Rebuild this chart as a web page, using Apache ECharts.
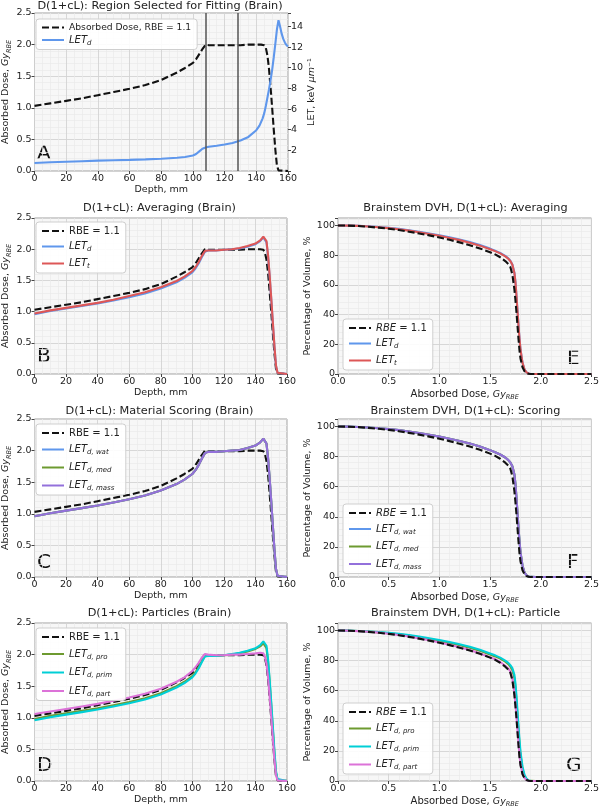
<!DOCTYPE html>
<html><head><meta charset="utf-8">
<script src="https://cdn.jsdelivr.net/npm/echarts@6/dist/echarts.min.js"></script>
<style>html,body{margin:0;padding:0;background:#fff}#c{width:602px;height:809px}</style>
</head><body><div id="c"></div>
<script>
// ---------------- data ----------------
const depth = [0,10,20,30,40,50,60,70,80,90,95,100,102,104,106,108,110,115,120,125,130,135,140,143,144,145,146,147,148,149,150,151,152,153,154,155,160];
const doseRBE = [1.03,1.07,1.11,1.15,1.20,1.25,1.30,1.36,1.44,1.56,1.63,1.71,1.77,1.85,1.93,2.00,1.99,1.99,1.99,1.99,1.99,2.00,2.00,2.00,2.00,1.99,1.95,1.83,1.62,1.32,1.00,0.66,0.34,0.09,0.01,0,0];
const doseLETd = [0.96,1.01,1.05,1.09,1.13,1.18,1.23,1.29,1.37,1.47,1.54,1.63,1.69,1.77,1.87,1.96,1.98,1.98,1.99,2.00,2.01,2.04,2.08,2.13,2.16,2.19,2.20,2.11,1.88,1.56,1.20,0.82,0.45,0.13,0.02,0,0];
const doseLETt = [0.97,1.02,1.06,1.10,1.14,1.19,1.25,1.31,1.39,1.49,1.56,1.65,1.71,1.79,1.89,1.97,1.98,1.98,1.99,2.00,2.02,2.05,2.09,2.14,2.17,2.20,2.22,2.13,1.90,1.58,1.22,0.84,0.46,0.14,0.02,0,0];
const doseWat = [0.96,1.01,1.05,1.09,1.13,1.18,1.23,1.29,1.37,1.47,1.54,1.63,1.69,1.77,1.87,1.96,1.98,1.98,1.99,2.00,2.01,2.04,2.08,2.13,2.16,2.19,2.20,2.11,1.88,1.56,1.20,0.82,0.45,0.13,0.02,0,0];
const doseMed = [0.96,1.01,1.05,1.09,1.13,1.18,1.23,1.29,1.37,1.47,1.54,1.63,1.69,1.77,1.87,1.96,1.98,1.98,1.99,2.00,2.01,2.04,2.08,2.13,2.16,2.19,2.20,2.11,1.88,1.56,1.20,0.82,0.45,0.13,0.02,0,0];
const doseMass = [0.96,1.01,1.05,1.09,1.13,1.18,1.23,1.29,1.37,1.47,1.54,1.63,1.69,1.77,1.87,1.96,1.98,1.98,1.99,2.00,2.01,2.04,2.08,2.13,2.16,2.19,2.20,2.11,1.88,1.56,1.20,0.82,0.45,0.13,0.02,0,0];
const dosePro = [0.98,1.03,1.07,1.11,1.15,1.20,1.25,1.31,1.39,1.50,1.57,1.66,1.72,1.80,1.90,1.98,1.99,1.98,1.99,2.00,2.02,2.05,2.09,2.13,2.15,2.18,2.19,2.10,1.89,1.57,1.21,0.83,0.45,0.13,0.02,0,0];
const dosePrim = [0.96,1.01,1.05,1.09,1.13,1.18,1.23,1.29,1.37,1.48,1.55,1.64,1.70,1.78,1.88,1.97,1.98,1.98,1.99,2.01,2.03,2.06,2.10,2.15,2.18,2.21,2.22,2.14,1.92,1.60,1.25,0.87,0.49,0.16,0.03,0,0];
const dosePart = [1.06,1.10,1.14,1.18,1.22,1.27,1.32,1.38,1.46,1.57,1.64,1.74,1.80,1.87,1.95,2.01,2.00,1.99,1.99,2.00,2.00,2.01,2.02,2.03,2.03,2.02,1.97,1.85,1.64,1.34,1.02,0.68,0.35,0.10,0.01,0,0];

const depthLET = [0,10,20,30,40,50,60,70,80,90,95,100,102,104,106,108,110,115,120,125,130,135,140,142,144,145,146,147,148,149,150,151,152,153,154,155,156,157,158,159,160];
const letD = [0.78,0.85,0.90,0.95,1.00,1.04,1.08,1.13,1.19,1.28,1.36,1.50,1.65,1.90,2.15,2.28,2.35,2.45,2.57,2.72,2.95,3.30,3.95,4.40,5.10,5.60,6.30,7.10,7.90,8.80,9.80,11.00,12.30,13.70,14.60,14.00,13.30,12.80,12.45,12.20,12.05];
const fitRegion = [108, 128];

const dvhDose = [0,0.1,0.2,0.3,0.4,0.5,0.6,0.7,0.8,0.9,1.0,1.1,1.2,1.3,1.4,1.5,1.55,1.6,1.65,1.68,1.70,1.72,1.74,1.75,1.76,1.77,1.78,1.79,1.80,1.82,1.84,1.86,1.88,1.90,1.95,2.0,2.5];
const dvhRBE  = [100,99.9,99.6,99.1,98.5,97.8,96.9,95.8,94.6,93.3,91.9,90.3,88.6,86.7,84.5,82.0,80.5,78.6,76.0,74.0,72.0,67.0,57.0,50.0,42.0,33.0,24.0,16.0,10.5,4.5,1.8,0.6,0.15,0.03,0,0,0];
const dvhLETd = [100,99.9,99.7,99.4,98.9,98.4,97.7,96.8,95.8,94.6,93.4,92.0,90.5,88.8,86.8,84.4,83.0,81.5,79.5,77.8,76.2,73.7,68.2,62.2,53.2,43.2,33.2,24.1,16.6,7.6,3.0,1.1,0.3,0.05,0,0,0];
const dvhLETt = [100,99.9,99.7,99.3,98.8,98.2,97.4,96.5,95.4,94.2,93.0,91.6,90.1,88.4,86.4,84.0,82.7,81.2,79.2,77.6,76.0,73.5,68.0,62.0,53.0,43.0,33.0,24.0,16.5,7.5,3.0,1.1,0.3,0.05,0,0,0];
const dvhWat  = [100,99.9,99.7,99.4,98.9,98.3,97.6,96.7,95.7,94.5,93.3,91.9,90.4,88.7,86.7,84.3,82.9,81.4,79.4,77.7,76.1,73.6,68.1,62.1,53.1,43.1,33.1,24.0,16.5,7.5,3.0,1.1,0.3,0.05,0,0,0];
const dvhMed  = [100,99.9,99.7,99.4,98.9,98.3,97.6,96.7,95.7,94.5,93.3,91.9,90.4,88.7,86.7,84.3,82.9,81.4,79.4,77.7,76.1,73.6,68.1,62.1,53.1,43.1,33.1,24.0,16.5,7.5,3.0,1.1,0.3,0.05,0,0,0];
const dvhMass = [100,99.9,99.7,99.4,98.9,98.3,97.6,96.7,95.7,94.5,93.3,91.9,90.4,88.7,86.7,84.3,82.9,81.4,79.4,77.7,76.1,73.6,68.1,62.1,53.1,43.1,33.1,24.0,16.5,7.5,3.0,1.1,0.3,0.05,0,0,0];
const dvhPro  = [100,99.9,99.7,99.3,98.8,98.2,97.5,96.6,95.5,94.3,93.1,91.7,90.2,88.5,86.5,84.1,82.8,81.3,79.3,77.7,76.1,73.6,68.5,62.5,54.0,44.0,34.0,25.0,17.5,8.0,3.2,1.2,0.3,0.05,0,0,0];
const dvhPrim = [100,99.9,99.7,99.4,99.0,98.5,97.8,97.0,96.0,94.9,93.7,92.4,90.9,89.2,87.2,84.8,83.5,82.0,80.0,78.5,77.0,75.0,70.5,65.0,57.0,47.0,37.0,27.5,19.5,9.5,4.0,1.5,0.4,0.08,0,0,0];
const dvhPart = [100,99.9,99.6,99.2,98.6,97.9,97.0,96.0,94.8,93.5,92.1,90.6,88.9,87.0,84.8,82.3,80.9,79.1,76.6,74.6,72.8,68.0,58.5,51.5,43.5,34.5,25.5,17.2,11.4,5.0,2.0,0.7,0.2,0.03,0,0,0];

const depthTicks = {min:0, max:160, interval:20};
const doseTicks = {min:0, max:2.5, interval:0.5};
const letTicks = {min:0, max:15.3, interval:2};
const dvhXTicks = {min:0, max:2.5, interval:0.5};
const dvhYTicks = {min:0, max:105, interval:20};

// ---------------- styling ----------------
const F = 'DejaVu Sans';
const TXT = '#222';
const C = {rbe:'#111111', blue:'#5f97ec', red:'#dd5757', green:'#6d9a30', purple:'#9370db', cyan:'#00cfd6', magenta:'#dc72d8'};
const subRich = {
  i:{fontStyle:'italic', fontFamily:F, fontSize:9.5, color:TXT},
  s:{fontStyle:'italic', fontFamily:F, fontSize:6.5, color:TXT, padding:[6,0,0,0]}
};
const legRich = {
  i:{fontStyle:'italic', fontFamily:F, fontSize:10, color:TXT},
  s:{fontStyle:'italic', fontFamily:F, fontSize:7, color:TXT, padding:[6,0,0,0]}
};
const labels = {
  A_rbe:'Absorbed Dose, RBE = 1.1', A_let:'{i|LET}{s|d}',
  B_rbe:'RBE = 1.1', B_letd:'{i|LET}{s|d}', B_lett:'{i|LET}{s|t}',
  E_rbe:'{i|RBE} = 1.1', E_letd:'{i|LET}{s|d}', E_lett:'{i|LET}{s|t}',
  C_rbe:'RBE = 1.1', C_wat:'{i|LET}{s|d, wat}', C_med:'{i|LET}{s|d, med}', C_mass:'{i|LET}{s|d, mass}',
  F_rbe:'{i|RBE} = 1.1', F_wat:'{i|LET}{s|d, wat}', F_med:'{i|LET}{s|d, med}', F_mass:'{i|LET}{s|d, mass}',
  D_rbe:'RBE = 1.1', D_pro:'{i|LET}{s|d, pro}', D_prim:'{i|LET}{s|d, prim}', D_part:'{i|LET}{s|d, part}',
  G_rbe:'{i|RBE} = 1.1', G_pro:'{i|LET}{s|d, pro}', G_prim:'{i|LET}{s|d, prim}', G_part:'{i|LET}{s|d, part}'
};

const grids = [
  {left:32, top:13, width:256, height:158},   // A
  {left:32, top:218, width:255, height:156},  // B
  {left:338, top:218, width:255, height:156}, // E
  {left:32, top:419, width:255, height:158},  // C
  {left:338, top:419, width:255, height:158}, // F
  {left:32, top:623, width:255, height:158},  // D
  {left:338, top:623, width:255, height:158}  // G
].map(g => Object.assign({show:true, backgroundColor:'#f7f7f7', borderColor:'#a0a0a0', borderWidth:1}, g));

const fmt1 = v => v.toFixed(1);
function baseAxis(gi, ticks, split, fmt) {
  return Object.assign({
    type:'value', gridIndex:gi,
    axisLine:{show:false},
    axisTick:{show:true, length:3, lineStyle:{color:'#444'}},
    axisLabel:{fontFamily:F, fontSize:9.5, color:TXT, margin:3, formatter:fmt},
    splitLine:{show:true, lineStyle:{color:'#d2d2d2', width:0.9}},
    minorTick:{show:false, splitNumber:split},
    minorSplitLine:{show:true, lineStyle:{color:'#e9e9e9', width:0.7}}
  }, ticks);
}
function xDepth(gi) {
  return Object.assign(baseAxis(gi, depthTicks, 4, v => String(v)), {
    name:'Depth, mm', nameLocation:'middle', nameGap:13,
    nameTextStyle:{fontFamily:F, fontSize:9.5, color:TXT}
  });
}
function xDvh(gi) {
  return Object.assign(baseAxis(gi, dvhXTicks, 5, fmt1), {
    name:'Absorbed Dose, {i|Gy}{s|RBE}', nameLocation:'middle', nameGap:14,
    nameTextStyle:{fontFamily:F, fontSize:10, color:TXT, rich:subRich}
  });
}
function yDose(gi) {
  return Object.assign(baseAxis(gi, doseTicks, 5, fmt1), {
    name:'Absorbed Dose, {i|Gy}{s|RBE}', nameLocation:'middle', nameGap:19, nameRotate:90,
    nameTextStyle:{fontFamily:F, fontSize:9.5, color:TXT, rich:subRich}
  });
}
function yDvh(gi) {
  return Object.assign(baseAxis(gi, dvhYTicks, 5, v => (v > 100 ? '' : String(v))), {
    name:'Percentage of Volume, %', nameLocation:'middle', nameGap:22, nameRotate:90,
    nameTextStyle:{fontFamily:F, fontSize:9.5, color:TXT}
  });
}

const xAxes = [xDepth(0), xDepth(1), xDvh(2), xDepth(3), xDvh(4), xDepth(5), xDvh(6)];
const yAxes = [yDose(0), yDose(1), yDvh(2), yDose(3), yDvh(4), yDose(5), yDvh(6)];
yAxes.push(Object.assign(baseAxis(0, letTicks, 1, v => (v > 0 && v <= 14 && v % 2 === 0 ? String(v) : '')), {
  position:'right', splitLine:{show:false}, minorSplitLine:{show:false},
  name:'LET, keV {i|μm}⁻¹', nameLocation:'middle', nameGap:17, nameRotate:90,
  nameTextStyle:{fontFamily:F, fontSize:9.5, color:TXT, rich:subRich}
}));

const zip = (xs, ys) => xs.map((x, i) => [x, ys[i]]);
function line(name, gi, xs, ys, color, dashed, yi) {
  return {
    name, type:'line', xAxisIndex:gi, yAxisIndex:(yi === undefined ? gi : yi),
    data:zip(xs, ys), symbol:'none', smooth:false, animation:false,
    lineStyle:{color, width:2.1, type:dashed ? [7, 3] : 'solid'},
    itemStyle:{color}
  };
}

const series = [
  Object.assign(line('A_rbe', 0, depth, doseRBE, C.rbe, true), {
    markLine:{silent:true, symbol:'none', label:{show:false}, animation:false,
      lineStyle:{color:'#555', width:1.5, type:'solid'},
      data:fitRegion.map(v => ({xAxis:v}))}
  }),
  line('A_let', 0, depthLET, letD, C.blue, false, 7),
  line('B_rbe', 1, depth, doseRBE, C.rbe, true),
  line('B_letd', 1, depth, doseLETd, C.blue, false),
  line('B_lett', 1, depth, doseLETt, C.red, false),
  line('E_letd', 2, dvhDose, dvhLETd, C.blue, false),
  line('E_lett', 2, dvhDose, dvhLETt, C.red, false),
  line('E_rbe', 2, dvhDose, dvhRBE, C.rbe, true),
  line('C_rbe', 3, depth, doseRBE, C.rbe, true),
  line('C_wat', 3, depth, doseWat, C.blue, false),
  line('C_med', 3, depth, doseMed, C.green, false),
  line('C_mass', 3, depth, doseMass, C.purple, false),
  line('F_wat', 4, dvhDose, dvhWat, C.blue, false),
  line('F_med', 4, dvhDose, dvhMed, C.green, false),
  line('F_mass', 4, dvhDose, dvhMass, C.purple, false),
  line('F_rbe', 4, dvhDose, dvhRBE, C.rbe, true),
  line('D_rbe', 5, depth, doseRBE, C.rbe, true),
  line('D_pro', 5, depth, dosePro, C.green, false),
  line('D_prim', 5, depth, dosePrim, C.cyan, false),
  line('D_part', 5, depth, dosePart, C.magenta, false),
  line('G_pro', 6, dvhDose, dvhPro, C.green, false),
  line('G_prim', 6, dvhDose, dvhPrim, C.cyan, false),
  line('G_part', 6, dvhDose, dvhPart, C.magenta, false),
  line('G_rbe', 6, dvhDose, dvhRBE, C.rbe, true)
];

function legend(names, left, top, gap) {
  return {
    data:names, left, top, orient:'vertical', itemWidth:22, itemHeight:10, itemGap:gap,
    padding:[4,6,3,5], backgroundColor:'rgba(255,255,255,0.9)', borderColor:'#cfcfcf', borderWidth:1, borderRadius:3,
    selectedMode:false,
    itemStyle:{opacity:0, borderWidth:0},
    textStyle:{fontFamily:F, fontSize:10, color:TXT, rich:legRich},
    formatter:n => labels[n]
  };
}
const legends = [
  Object.assign(legend(['A_rbe','A_let'], 36, 19, 3), {textStyle:{fontFamily:F, fontSize:9.2, color:TXT, rich:legRich}}),
  legend(['B_rbe','B_letd','B_lett'], 36, 222, 5.5),
  legend(['E_rbe','E_letd','E_lett'], 343, 319, 5.5),
  legend(['C_rbe','C_wat','C_med','C_mass'], 36, 424, 6.5),
  legend(['F_rbe','F_wat','F_med','F_mass'], 343, 504, 6),
  legend(['D_rbe','D_pro','D_prim','D_part'], 36, 628, 7),
  legend(['G_rbe','G_pro','G_prim','G_part'], 343, 703, 6.5)
];

const titles = [
  ['D(1+cL): Region Selected for Fitting (Brain)', 160, 1],
  ['D(1+cL): Averaging (Brain)', 159.5, 203],
  ['Brainstem DVH, D(1+cL): Averaging', 465.5, 203],
  ['D(1+cL): Material Scoring (Brain)', 159.5, 406],
  ['Brainstem DVH, D(1+cL): Scoring', 465.5, 406],
  ['D(1+cL): Particles (Brain)', 159.5, 608],
  ['Brainstem DVH, D(1+cL): Particle', 465.5, 608]
].map(t => ({text:t[0], left:t[1], top:t[2], textAlign:'center', padding:0,
  textStyle:{fontFamily:F, fontSize:11.3, fontWeight:'normal', color:TXT}}));

const letters = [['A',37,155],['B',37,358],['E',567,360],['C',37,564],['F',567,564],['D',37,767],['G',566,767]];
const graphic = letters.map(l => ({type:'text', left:l[1], top:l[2]-11, silent:true,
  style:{text:l[0], font:'20px DejaVu Sans', fill:'#111'}}));

const chart = echarts.init(document.getElementById('c'), null, {renderer:'canvas'});
chart.setOption({
  animation:false, backgroundColor:'#ffffff',
  title:titles, grid:grids, xAxis:xAxes, yAxis:yAxes, legend:legends, series, graphic
});
</script></body></html>
